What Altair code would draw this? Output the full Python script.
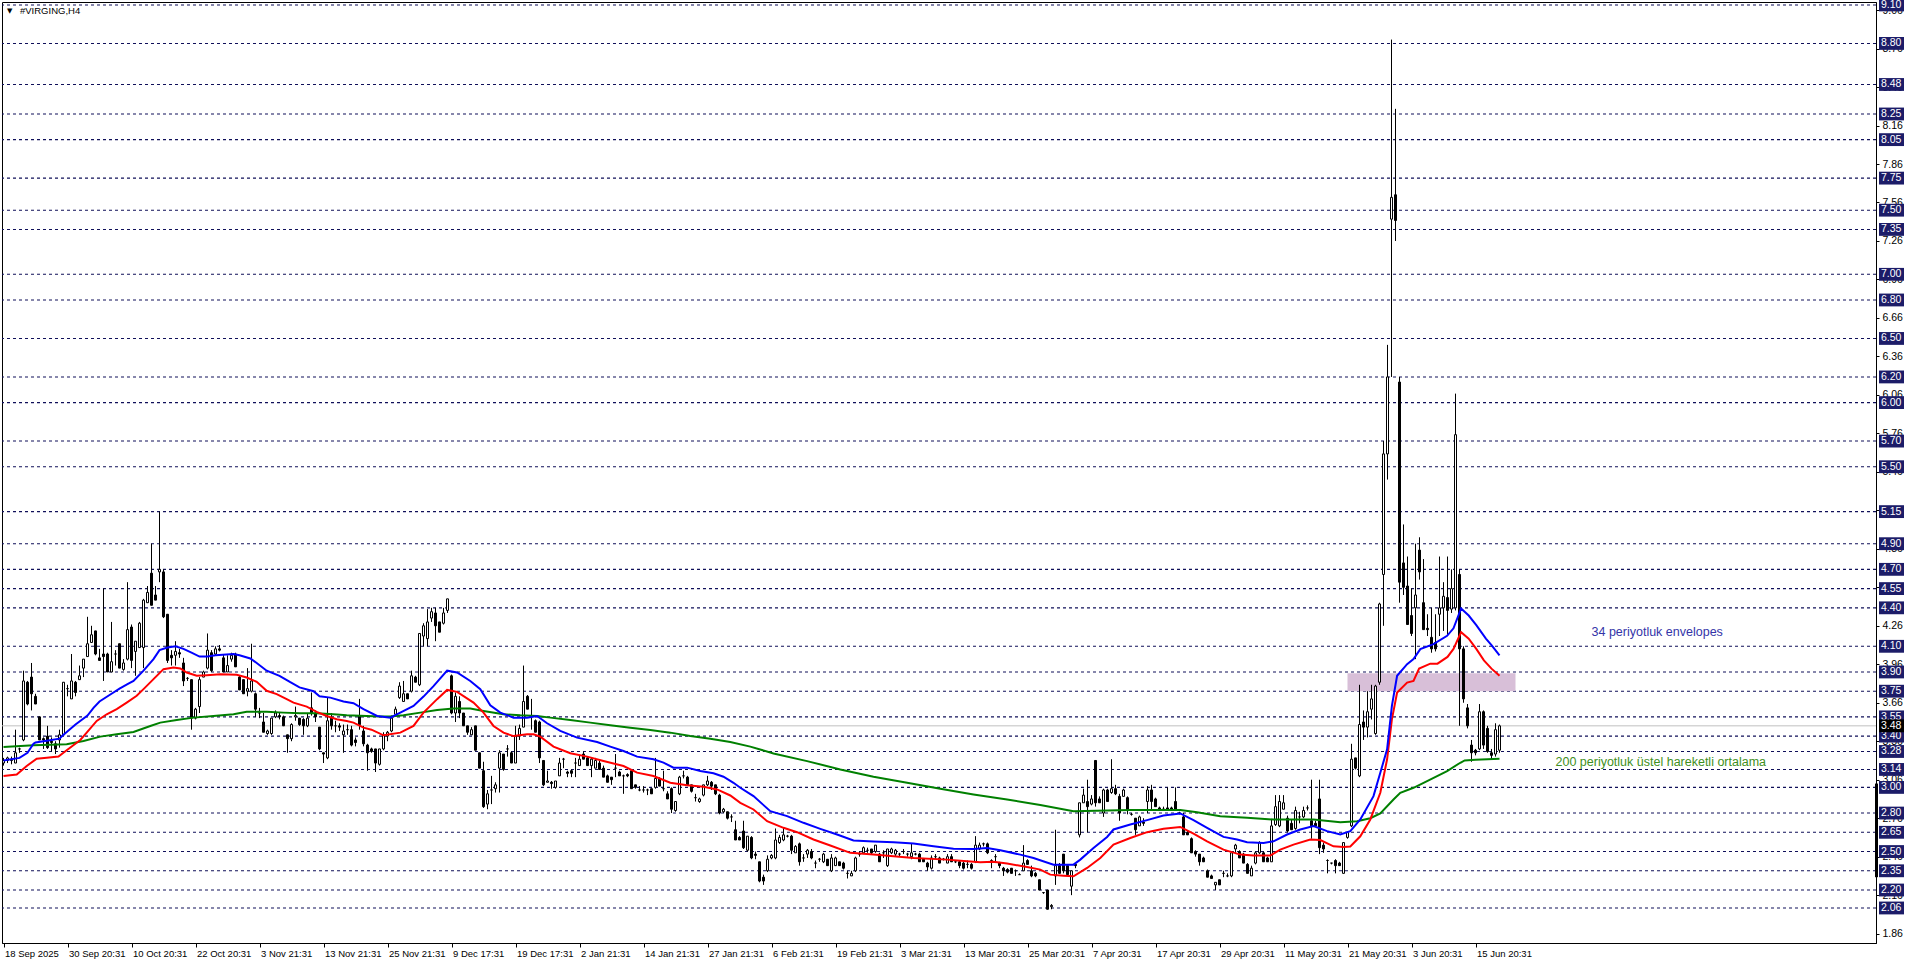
import json
import altair as alt
import pandas as pd

# ---------------- data ----------------
opens = [
3.19,3.21,3.22,3.19,3.30,3.37,3.82,3.86,3.71,3.55,
3.38,3.40,3.36,3.34,3.37,3.41,3.77,3.69,3.82,3.84,
3.93,4.02,4.13,4.22,4.01,4.04,4.04,3.90,4.04,4.12,
3.92,4.00,4.25,4.06,4.09,4.09,4.44,4.67,4.50,4.68,
4.68,4.35,4.03,4.03,4.05,3.97,3.85,3.84,3.54,3.63,
3.86,3.93,4.05,4.04,4.08,4.01,3.90,4.00,4.04,3.86,
3.84,3.75,3.75,3.73,3.58,3.51,3.42,3.42,3.55,3.56,
3.55,3.41,3.38,3.55,3.54,3.53,3.48,3.62,3.58,3.47,
3.27,3.23,3.54,3.48,3.48,3.41,3.45,3.45,3.37,3.56,
3.44,3.33,3.30,3.30,3.18,3.30,3.40,3.44,3.57,3.70,
3.67,3.73,3.75,3.86,3.80,4.18,4.16,4.32,4.36,4.29,
4.28,4.38,3.87,3.58,3.67,3.58,3.48,3.41,3.48,3.27,
3.13,2.87,2.98,2.99,3.15,3.26,3.30,3.27,3.19,3.40,
3.47,3.71,3.56,3.52,3.51,3.21,3.04,3.04,3.00,3.09,
3.22,3.12,3.13,3.19,3.17,3.26,3.23,3.17,3.15,3.19,
3.15,3.09,3.08,3.15,3.12,3.09,3.10,3.13,3.02,2.98,
2.98,2.98,2.99,3.00,3.07,2.99,2.95,2.99,2.82,2.95,
3.09,3.08,3.02,2.92,2.89,2.94,3.02,3.04,3.02,2.94,
2.81,2.81,2.77,2.67,2.61,2.66,2.51,2.61,2.48,2.42,
2.30,2.35,2.45,2.45,2.57,2.59,2.62,2.62,2.49,2.56,
2.45,2.48,2.50,2.41,2.44,2.42,2.44,2.35,2.39,2.42,
2.41,2.33,2.31,2.35,2.48,2.49,2.51,2.52,2.50,2.48,
2.49,2.39,2.49,2.48,2.48,2.50,2.48,2.46,2.48,2.48,
2.44,2.41,2.37,2.46,2.45,2.44,2.41,2.46,2.42,2.42,
2.41,2.40,2.40,2.42,2.52,2.56,2.56,2.43,2.46,2.41,
2.37,2.36,2.37,2.35,2.32,2.35,2.43,2.35,2.33,2.28,
2.18,2.20,2.07,2.31,2.39,2.48,2.39,2.23,2.40,2.63,
2.88,2.89,2.87,3.21,2.91,2.80,2.98,2.96,2.99,2.93,
2.93,2.92,2.79,2.76,2.70,2.73,2.89,2.98,2.91,2.84,
2.83,2.84,2.84,2.89,2.80,2.77,2.65,2.60,2.50,2.48,
2.45,2.35,2.31,2.24,2.28,2.33,2.31,2.31,2.52,2.50,
2.48,2.40,2.31,2.41,2.49,2.49,2.45,2.42,2.71,2.70,
2.83,2.76,2.72,2.68,2.77,2.77,2.84,2.74,2.72,2.91,
2.55,2.43,2.41,2.43,2.41,2.33,2.61,2.70,3.23,3.09,
3.51,3.47,3.61,3.42,3.82,4.66,5.60,7.43,7.62,6.16,
4.75,4.57,4.34,4.40,4.85,4.44,4.24,4.17,4.13,4.35,
4.40,4.48,4.39,4.40,4.66,4.08,3.62,3.33,3.29,3.30,
3.59,3.46,3.27,3.26,3.29]

highs = [
3.23,3.24,3.24,3.45,3.31,3.91,3.83,3.97,3.73,3.55,
3.39,3.48,3.39,3.36,3.45,3.82,3.80,4.04,3.83,3.95,
4.00,4.33,4.26,4.22,4.08,4.55,4.05,4.29,4.07,4.12,
4.00,4.60,4.27,4.14,4.29,4.47,4.57,4.90,4.57,5.15,
4.70,4.35,4.07,4.14,4.08,4.01,3.86,3.84,3.62,3.86,
3.91,4.20,4.07,4.10,4.11,4.04,4.03,4.05,4.05,3.87,
3.84,3.93,4.12,3.74,3.62,3.58,3.45,3.54,3.60,3.58,
3.56,3.41,3.50,3.63,3.54,3.54,3.58,3.74,3.60,3.47,
3.27,3.70,3.58,3.52,3.50,3.49,3.49,3.48,3.39,3.69,
3.48,3.34,3.31,3.30,3.30,3.43,3.44,3.56,3.63,3.82,
3.83,3.73,3.91,3.87,4.20,4.28,4.39,4.40,4.40,4.29,
4.40,4.47,3.88,3.74,3.71,3.58,3.48,3.47,3.48,3.27,
3.20,2.98,3.09,3.04,3.29,3.26,3.33,3.28,3.48,3.49,
3.95,3.72,3.69,3.53,3.52,3.21,3.13,3.05,3.05,3.23,
3.23,3.13,3.14,3.23,3.25,3.28,3.24,3.23,3.23,3.21,
3.17,3.10,3.08,3.26,3.13,3.10,3.11,3.14,3.02,3.01,
3.01,2.99,2.99,3.23,3.08,3.13,2.97,3.00,2.89,3.09,
3.13,3.09,3.02,2.95,2.92,3.02,3.09,3.05,3.02,2.95,
2.84,2.81,2.79,2.74,2.62,2.74,2.62,2.62,2.50,2.42,
2.32,2.47,2.48,2.68,2.63,2.69,2.63,2.63,2.55,2.57,
2.48,2.52,2.52,2.43,2.45,2.49,2.44,2.48,2.46,2.42,
2.42,2.35,2.35,2.46,2.50,2.54,2.53,2.52,2.55,2.49,
2.51,2.52,2.53,2.52,2.49,2.52,2.49,2.56,2.49,2.49,
2.45,2.42,2.47,2.48,2.46,2.45,2.48,2.48,2.43,2.43,
2.42,2.43,2.41,2.62,2.57,2.57,2.57,2.44,2.48,2.42,
2.38,2.37,2.37,2.36,2.33,2.55,2.44,2.39,2.34,2.28,
2.18,2.20,2.09,2.67,2.41,2.48,2.39,2.35,2.41,2.88,
2.99,3.06,2.94,3.21,2.93,2.99,2.99,3.22,3.02,2.95,
2.99,2.93,2.80,2.76,2.78,2.76,3.01,3.02,2.92,2.85,
2.85,3.00,2.85,3.00,2.81,2.80,2.66,2.61,2.51,2.48,
2.46,2.36,2.32,2.26,2.28,2.35,2.33,2.49,2.56,2.51,
2.49,2.41,2.39,2.50,2.58,2.50,2.46,2.75,2.94,2.94,
2.94,2.78,2.75,2.85,2.81,2.85,2.86,3.06,2.74,3.06,
2.57,2.44,2.41,2.44,2.42,2.57,2.66,3.34,3.23,3.80,
3.60,3.75,3.80,3.80,4.44,5.70,6.45,8.83,8.29,6.20,
5.05,4.80,4.55,4.90,4.95,4.78,4.35,4.40,4.35,4.80,
4.60,4.80,4.70,6.07,4.70,4.10,3.65,3.37,3.30,3.65,
3.60,3.48,3.30,3.50,3.49]

lows = [
3.17,3.19,3.18,3.19,3.27,3.36,3.64,3.60,3.65,3.37,
3.30,3.30,3.28,3.26,3.31,3.40,3.71,3.69,3.71,3.84,
3.86,4.02,4.13,4.03,3.99,3.83,3.90,3.90,3.95,3.93,
3.91,3.99,3.93,3.87,4.09,3.93,4.44,4.42,4.46,4.60,
4.32,3.97,3.95,3.95,4.01,3.79,3.83,3.45,3.53,3.58,
3.86,3.92,3.90,4.03,4.06,3.90,3.90,3.98,3.94,3.76,
3.73,3.71,3.74,3.55,3.54,3.43,3.41,3.41,3.54,3.53,
3.48,3.27,3.36,3.52,3.48,3.41,3.47,3.56,3.51,3.29,
3.19,3.22,3.45,3.43,3.44,3.27,3.41,3.32,3.32,3.45,
3.32,3.13,3.27,3.12,3.17,3.29,3.36,3.43,3.56,3.69,
3.67,3.69,3.74,3.82,3.79,4.10,4.10,4.29,4.14,4.21,
4.27,4.36,3.57,3.51,3.54,3.48,3.41,3.41,3.29,3.15,
2.84,2.83,2.87,2.96,2.96,3.13,3.24,3.19,3.19,3.37,
3.47,3.61,3.45,3.43,3.19,3.01,3.04,2.99,2.99,3.09,
3.15,3.08,3.08,3.08,3.17,3.22,3.17,3.08,3.15,3.14,
3.08,3.04,3.02,3.08,3.09,2.95,3.08,2.99,2.99,2.97,
2.96,2.94,2.95,2.99,3.01,2.97,2.91,2.80,2.81,2.94,
3.07,3.02,2.96,2.89,2.88,2.93,3.01,2.98,2.94,2.79,
2.80,2.75,2.73,2.59,2.59,2.52,2.50,2.44,2.44,2.26,
2.24,2.34,2.44,2.44,2.56,2.58,2.61,2.48,2.49,2.39,
2.42,2.45,2.44,2.37,2.42,2.41,2.39,2.34,2.39,2.39,
2.36,2.29,2.31,2.34,2.46,2.48,2.49,2.48,2.49,2.42,
2.45,2.38,2.48,2.46,2.46,2.48,2.46,2.44,2.47,2.42,
2.42,2.35,2.36,2.44,2.41,2.43,2.41,2.42,2.41,2.37,
2.36,2.37,2.36,2.41,2.51,2.54,2.48,2.37,2.41,2.37,
2.31,2.33,2.33,2.31,2.32,2.35,2.40,2.30,2.30,2.20,
2.17,2.05,2.05,2.24,2.33,2.33,2.31,2.16,2.37,2.61,
2.88,2.65,2.86,2.85,2.88,2.77,2.89,2.95,2.94,2.74,
2.93,2.79,2.78,2.63,2.70,2.70,2.80,2.83,2.85,2.82,
2.82,2.82,2.82,2.82,2.79,2.63,2.63,2.49,2.46,2.39,
2.42,2.30,2.29,2.20,2.24,2.30,2.30,2.30,2.49,2.45,
2.41,2.33,2.31,2.40,2.48,2.42,2.42,2.42,2.70,2.69,
2.83,2.65,2.67,2.67,2.72,2.76,2.82,2.60,2.70,2.48,
2.49,2.33,2.40,2.33,2.39,2.33,2.60,2.69,3.14,3.08,
3.37,3.39,3.53,3.41,3.80,4.26,5.40,6.20,7.26,4.44,
4.50,4.27,4.18,4.00,4.62,4.23,4.18,4.05,4.06,4.18,
4.22,4.18,4.36,4.38,3.48,3.66,3.46,3.20,3.25,3.29,
3.30,3.27,3.22,3.24,3.27]

closes = [
3.21,3.23,3.21,3.27,3.30,3.83,3.65,3.73,3.65,3.37,
3.37,3.31,3.35,3.30,3.41,3.82,3.77,3.83,3.74,3.87,
4.00,4.12,4.19,4.04,3.99,4.02,3.90,3.98,4.04,3.93,
3.97,4.23,3.99,4.14,4.28,4.46,4.52,4.42,4.46,4.70,
4.33,3.99,4.01,4.06,4.04,3.83,3.85,3.54,3.61,3.84,
3.90,4.07,3.91,4.08,4.07,3.90,3.95,4.03,3.94,3.76,
3.73,3.77,3.83,3.61,3.58,3.43,3.44,3.54,3.58,3.55,
3.48,3.38,3.49,3.56,3.49,3.48,3.54,3.58,3.55,3.30,
3.26,3.52,3.48,3.48,3.47,3.44,3.45,3.33,3.35,3.49,
3.34,3.27,3.28,3.19,3.30,3.41,3.43,3.54,3.61,3.79,
3.73,3.69,3.87,3.82,4.20,4.26,4.29,4.37,4.26,4.21,
4.36,4.47,3.58,3.71,3.58,3.48,3.43,3.45,3.29,3.15,
2.85,2.95,2.98,3.02,3.27,3.14,3.30,3.19,3.40,3.46,
3.67,3.61,3.56,3.43,3.23,3.02,3.05,3.03,3.05,3.19,
3.22,3.11,3.11,3.19,3.22,3.22,3.17,3.22,3.21,3.14,
3.08,3.04,3.06,3.15,3.09,3.09,3.09,2.99,3.00,2.98,
2.98,2.98,2.95,3.07,3.01,2.99,2.91,2.83,2.89,3.08,
3.09,3.02,2.97,2.92,2.91,3.02,3.05,3.01,2.95,2.80,
2.83,2.76,2.77,2.59,2.59,2.53,2.62,2.45,2.47,2.27,
2.27,2.44,2.47,2.59,2.61,2.63,2.62,2.51,2.54,2.42,
2.45,2.51,2.45,2.41,2.44,2.48,2.39,2.45,2.45,2.39,
2.37,2.33,2.33,2.45,2.48,2.53,2.51,2.49,2.55,2.42,
2.49,2.52,2.52,2.51,2.48,2.50,2.48,2.49,2.48,2.42,
2.42,2.38,2.45,2.46,2.41,2.44,2.46,2.42,2.42,2.39,
2.37,2.40,2.37,2.55,2.55,2.56,2.49,2.43,2.46,2.39,
2.35,2.34,2.33,2.35,2.32,2.41,2.40,2.31,2.31,2.20,
2.18,2.05,2.08,2.39,2.33,2.35,2.32,2.35,2.39,2.88,
2.94,2.85,2.91,2.88,2.88,2.98,2.89,2.99,2.95,2.80,
2.98,2.82,2.79,2.67,2.77,2.72,2.98,2.89,2.85,2.83,
2.83,2.82,2.83,2.82,2.80,2.63,2.63,2.49,2.48,2.42,
2.42,2.30,2.29,2.26,2.24,2.33,2.31,2.49,2.55,2.45,
2.41,2.33,2.37,2.49,2.57,2.42,2.42,2.70,2.85,2.89,
2.88,2.66,2.67,2.82,2.77,2.82,2.84,2.70,2.70,2.53,
2.52,2.43,2.41,2.39,2.39,2.57,2.65,3.22,3.15,3.49,
3.47,3.59,3.69,3.79,4.43,5.60,6.20,7.60,7.42,4.60,
4.56,4.27,4.20,4.50,4.68,4.23,4.23,4.08,4.08,4.40,
4.49,4.38,4.55,5.75,4.08,3.69,3.48,3.27,3.27,3.59,
3.33,3.28,3.25,3.45,3.48]

# 34-period envelopes (upper = blue, lower = red) and 200 EMA (green): bar position, value
blue_pos = [0,4,6,7.5,8,12,14,15,18,21,22.5,24,27,29,31,32.5,35,37.5,39,41,43,45,47,49,51,53,57.5,59,61.7,63.3,
            65.8,69,71.7,74,77.5,79,81.7,85,87.5,90,93.4,96.7,99.2,102.5,105,107.5,110.9,113.4,116.7,119.2,121.7,
            124.2,127.5,130.9,133.4,135.9,139.2,143.4,148.4,151.7,155,158.4,162.5,165,167.5,170.9,174.2,177.5,180,
            182.5,184.2,187.5,191.7,195.9,200,204.2,208.4,212.5,217.5,222.5,227.5,232.5,237.5,242.5,245.9,249.2,
            254.2,257.5,262.5,267.5,269.2,272.5,275.9,277.5,281.7,285.9,290,294.2,297.5,300.9,305,308.4,310.9,315,
            317.5,320.9,324.2,327.5,330.9,334.2,336.7,339.2,342.5,344.2,345.9,347.1,348.4,350.9,352.5,354.2,357.5,
            360.9,362.5,364.4,366.3,368.2,370.6,372,374]
blue_val = [3.21,3.23,3.27,3.34,3.35,3.37,3.38,3.41,3.49,3.56,3.62,3.67,3.73,3.77,3.805,3.83,3.91,4.00,4.07,4.09,
            4.10,4.08,4.05,4.02,4.02,4.03,4.04,4.03,4.005,3.97,3.91,3.87,3.82,3.78,3.75,3.71,3.70,3.67,3.656,3.61,
            3.557,3.544,3.583,3.635,3.708,3.79,3.91,3.896,3.83,3.766,3.64,3.583,3.544,3.544,3.557,3.50,3.44,3.388,
            3.354,3.318,3.284,3.24,3.219,3.193,3.154,3.154,3.128,3.11,3.083,3.036,2.997,2.932,2.815,2.776,2.724,
            2.677,2.633,2.586,2.578,2.573,2.562,2.541,2.521,2.52,2.528,2.51,2.476,2.45,2.398,2.398,2.437,2.528,
            2.614,2.672,2.711,2.745,2.781,2.797,2.745,2.685,2.614,2.594,2.573,2.567,2.58,2.633,2.672,2.698,2.659,
            2.633,2.659,2.75,2.932,3.114,3.297,3.635,3.87,3.961,4.0,4.078,4.117,4.182,4.24,4.395,4.34,4.265,4.16,
            4.11,4.03]
red_pos = [0,3.3,5.8,8.3,10.8,13.75,15.8,19.2,20.8,23.3,25.8,28.3,30.8,33.3,35,37.5,40,42.5,44.2,45.8,48.3,50.8,
           54.2,58.3,60.8,63.3,65.8,68.3,70.8,72.5,75.8,78.3,80.8,83.3,85.8,87.5,90,92,95,99.2,102.5,105,108.4,
           110.9,113.4,117.5,120,122.5,125,127.5,130.9,132.5,134.2,137.5,141.7,145.9,150,155,158.4,162.5,166.7,
           170.9,175,178.4,181.7,184.2,187.5,190.9,195,198.4,202.5,206.7,211.7,217.5,222.5,227.5,235.9,240.9,
           244.2,247.5,250.9,255.9,259.2,261.7,265,267.5,270.9,274.2,277.5,281.7,285.9,290,294.2,297.5,300.9,305,
           309.2,312.5,316.7,319.2,322.5,326.7,329.2,332.5,335,336.7,339.2,341.7,344.2,345.9,347.1,348.4,350.9,
           352.5,353.9,356.7,358.5,361,362.5,364.4,366.3,368.2,370.1,372,374]
red_val = [3.089,3.10,3.167,3.224,3.232,3.24,3.29,3.37,3.427,3.518,3.57,3.61,3.661,3.714,3.766,3.844,3.922,3.935,
           3.927,3.896,3.87,3.875,3.883,3.878,3.857,3.823,3.753,3.727,3.688,3.661,3.63,3.589,3.557,3.531,3.518,
           3.505,3.466,3.45,3.406,3.427,3.479,3.583,3.688,3.76,3.745,3.661,3.583,3.479,3.427,3.40,3.414,3.414,
           3.396,3.318,3.266,3.24,3.206,3.167,3.115,3.089,3.036,3.016,3.005,2.984,2.937,2.88,2.828,2.737,2.685,
           2.651,2.594,2.547,2.49,2.476,2.463,2.45,2.437,2.424,2.416,2.42,2.406,2.38,2.359,2.32,2.312,2.307,2.372,
           2.45,2.554,2.606,2.651,2.677,2.692,2.64,2.58,2.515,2.476,2.469,2.469,2.515,2.554,2.594,2.59,2.541,
           2.536,2.54,2.619,2.75,2.958,3.219,3.531,3.739,3.817,3.83,3.926,3.965,3.965,4.017,4.08,4.21,4.16,4.08,
           3.99,3.926,3.87]
green_pos = [0,7.5,15.8,20,24.2,28.3,32.5,36.7,39.2,43.3,47.5,52.5,57.5,60.8,65.8,70,74.2,78.3,82.5,85.8,90.8,
             94.2,96.7,100,104.2,108.4,112.5,116.7,120,125,129.2,133.4,136.7,141.7,146.7,151.7,156.7,161.7,166.7,
             171.7,176.7,181.7,186.7,192.5,200.9,209.2,217.5,225.9,234.2,242.5,250.9,259.2,267.5,275.9,281.7,
             294.2,298.4,304.2,310.9,317.5,327.5,334.2,338.4,341.7,344.2,347.5,349.2,352.5,355.9,360.9,364.2,
             365.3,368,374]
green_val = [3.315,3.328,3.336,3.362,3.396,3.414,3.432,3.479,3.505,3.526,3.544,3.557,3.57,3.589,3.589,3.583,
             3.578,3.578,3.57,3.562,3.557,3.552,3.552,3.562,3.583,3.604,3.615,3.615,3.596,3.57,3.562,3.557,3.544,
             3.526,3.505,3.484,3.466,3.448,3.427,3.401,3.38,3.354,3.318,3.265,3.205,3.14,3.083,3.036,2.989,2.945,
             2.906,2.862,2.815,2.82,2.823,2.823,2.807,2.776,2.763,2.75,2.75,2.729,2.737,2.76,2.797,2.906,2.958,
             2.997,3.049,3.127,3.192,3.21,3.215,3.223]

# horizontal level lines drawn on the chart
level_values = [9.10, 8.80, 8.48, 8.25, 8.05, 7.75, 7.50, 7.35, 7.00, 6.80, 6.50, 6.20, 6.00, 5.70, 5.50,
                5.15, 4.90, 4.70, 4.55, 4.40, 4.10, 3.90, 3.75, 3.55, 3.40, 3.28, 3.14, 3.00, 2.80, 2.65,
                2.50, 2.35, 2.20, 2.06]
# regular price-scale ticks
tick_values = [1.86, 2.16, 2.46, 2.76, 3.06, 3.36, 3.66, 3.96, 4.26, 4.56, 4.86, 5.16, 5.46, 5.76, 6.06,
               6.36, 6.66, 6.96, 7.26, 7.56, 7.86, 8.16, 8.46, 8.76, 9.06]
current_price = 3.48
x_label_bars = [0, 16, 32, 48, 64, 80, 96, 112, 128, 144, 160, 176, 192, 208, 224, 240, 256, 272, 288,
                304, 320, 336, 352, 368]
x_labels = ["18 Sep 2025", "30 Sep 20:31", "10 Oct 20:31", "22 Oct 20:31", "3 Nov 21:31", "13 Nov 21:31",
            "25 Nov 21:31", "9 Dec 17:31", "19 Dec 17:31", "2 Jan 21:31", "14 Jan 21:31", "27 Jan 21:31",
            "6 Feb 21:31", "19 Feb 21:31", "3 Mar 21:31", "13 Mar 20:31", "25 Mar 20:31", "7 Apr 20:31",
            "17 Apr 20:31", "29 Apr 20:31", "11 May 20:31", "21 May 20:31", "3 Jun 20:31", "15 Jun 20:31"]
zone_bars = [336, 378]
zone_prices = [3.75, 3.89]
scroll_marker_prices = [3.03, 2.30]
notes_text = ["34 periyotluk envelopes", "200 periyotluk üstel hareketli ortalama"]
notes_bar = [397, 388]
notes_price = [4.21, 3.196]
notes_color = ["#3434a8", "#3f8f22"]
title_text = "#VIRGING,H4"

# ---------------- chart ----------------
FONT = "Liberation Sans"
NAVY = "#1c1c68"
DASH = "#10105a"
PW, PH = 1874, 941
xs = alt.Scale(domain=[-0.375, 468.125], nice=False, zero=False)
ys = alt.Scale(domain=[1.787, 9.123], nice=False, zero=False)

label_expr = json.dumps(x_labels) + "[indexof(" + json.dumps(x_label_bars) + ", datum.value)]"
x_axis = alt.Axis(values=x_label_bars, labelExpr=label_expr, labelAlign="left", labelOffset=1,
                  labelFont=FONT, labelFontSize=9.5, labelColor="black", tickSize=4, tickColor="black",
                  domainColor="black", labelPadding=1, grid=False, labelFlush=False, labelOverlap=False,
                  labelBound=False, title=None)
y_axis = alt.Axis(orient="right", values=tick_values, format=".2f", labelFont=FONT, labelFontSize=10.5,
                  labelColor="black", tickSize=3, tickColor="black", domainColor="black", labelPadding=3,
                  grid=False, labelOverlap=False, title=None)


def X(f):
    return alt.X(f, type="quantitative", scale=xs, axis=x_axis)


def Y(f):
    return alt.Y(f, type="quantitative", scale=ys, axis=y_axis)


n = min(len(opens), len(highs), len(lows), len(closes))
bars = pd.DataFrame({"bar": list(range(n)), "open": opens[:n], "high": highs[:n],
                     "low": lows[:n], "close": closes[:n]})
levels = pd.DataFrame({"price": level_values, "label": [f"{v:.2f}" for v in level_values]})
cur = pd.DataFrame({"price": [current_price], "label": [f"{current_price:.2f}"]})
zone = pd.DataFrame({"b0": [zone_bars[0]], "b1": [zone_bars[1]], "p0": [zone_prices[0]], "p1": [zone_prices[1]]})
marker = pd.DataFrame({"p0": [scroll_marker_prices[0]], "p1": [scroll_marker_prices[1]]})
notes = pd.DataFrame({"bar": notes_bar, "price": notes_price, "text": notes_text, "color": notes_color})


def line_df(p, v):
    k = min(len(p), len(v))
    return pd.DataFrame({"bar": p[:k], "v": v[:k]})


level_lines = alt.Chart(levels).mark_rule(color=DASH, strokeDash=[3, 3], strokeWidth=1.1).encode(y=Y("price"))
cur_line = alt.Chart(cur).mark_rule(color="#c0c0c0", strokeWidth=1).encode(y=Y("price"))
zone_rect = alt.Chart(zone).mark_rect(color="#d8bfd8").encode(x=X("b0"), x2="b1", y=Y("p0"), y2="p1")
wicks = alt.Chart(bars).mark_rule(color="black", strokeWidth=1).encode(x=X("bar"), y=Y("low"), y2="high")
bodies = alt.Chart(bars).mark_rect(stroke="black", strokeWidth=1).transform_calculate(
    b0="datum.bar - 0.25", b1="datum.bar + 0.25"
).encode(
    x=X("b0"), x2="b1", y=Y("open"), y2="close",
    fill=alt.condition("datum.close >= datum.open", alt.value("white"), alt.value("black")),
)
green_line = alt.Chart(line_df(green_pos, green_val)).mark_line(color="#008000", strokeWidth=2).encode(x=X("bar"), y=Y("v"))
red_line = alt.Chart(line_df(red_pos, red_val)).mark_line(color="#ff0000", strokeWidth=2).encode(x=X("bar"), y=Y("v"))
blue_line = alt.Chart(line_df(blue_pos, blue_val)).mark_line(color="#0000ff", strokeWidth=2).encode(x=X("bar"), y=Y("v"))

marker_bar = alt.Chart(marker).mark_rule(color="black", strokeWidth=3).encode(
    x=alt.value(PW + 0.5), y=Y("p0"), y2="p1")

lvl_box = alt.Chart(levels).mark_rect(color=NAVY).transform_calculate(
    lo="datum.price - 0.05", hi="datum.price + 0.05"
).encode(x=alt.value(PW + 3), x2=alt.value(PW + 28), y=Y("lo:Q"), y2="hi:Q")
lvl_text = alt.Chart(levels).mark_text(align="left", baseline="middle", color="white", font=FONT,
                                       fontSize=10.5).encode(x=alt.value(PW + 5), y=Y("price"), text="label:N")
cur_box = alt.Chart(cur).mark_rect(color="black").transform_calculate(
    lo="datum.price - 0.05", hi="datum.price + 0.05"
).encode(x=alt.value(PW + 3), x2=alt.value(PW + 28), y=Y("lo:Q"), y2="hi:Q")
cur_text = alt.Chart(cur).mark_text(align="left", baseline="middle", color="white", font=FONT,
                                    fontSize=10.5).encode(x=alt.value(PW + 5), y=Y("price"), text="label:N")

note_text = alt.Chart(notes).mark_text(align="left", baseline="middle", font=FONT, fontSize=12.5).encode(
    x=X("bar"), y=Y("price"), text="text:N", color=alt.Color("color:N", scale=None))

title_df = pd.DataFrame({"t": [title_text]})
title_mark = alt.Chart(title_df).mark_text(align="left", baseline="middle", font=FONT, fontSize=9.5,
                                           color="black").encode(x=alt.value(18), y=alt.value(9), text="t:N")
tri_mark = alt.Chart(title_df).mark_text(align="left", baseline="middle", font="DejaVu Sans", fontSize=7,
                                         color="black").encode(x=alt.value(5), y=alt.value(9), text=alt.value("▼"))

chart = alt.layer(
    level_lines, cur_line, zone_rect, wicks, bodies, green_line, red_line, blue_line,
    marker_bar, lvl_box, lvl_text, cur_box, cur_text, note_text, title_mark, tri_mark,
).properties(
    width=PW, height=PH,
    autosize=alt.AutoSizeParams(type="none"),
    padding={"left": 2, "top": 2, "right": 40, "bottom": 20},
    background="white",
).configure_view(stroke="black", strokeWidth=1)

chart.save("out.html", embed_options={"renderer": "svg", "actions": False})
